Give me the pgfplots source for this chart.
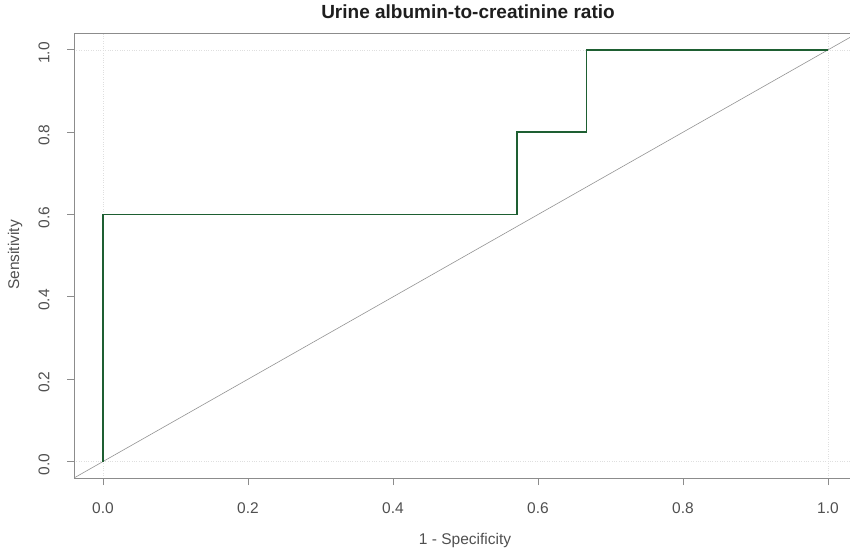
\documentclass[border=0pt]{standalone}
\usepackage{pgfplots}
\pgfplotsset{compat=1.18}
\usepackage{fontspec}
\setmainfont{Liberation Sans}
\definecolor{rocgreen}{RGB}{30,95,50}
\definecolor{axgray}{RGB}{140,140,140}
\definecolor{lblgray}{RGB}{80,80,80}
\begin{document}
\begin{tikzpicture}
\begin{axis}[
  name=ax,
  scale only axis,
  width=783pt, height=445pt,
  xmin=-0.04, xmax=1.04,
  ymin=-0.04, ymax=1.041,
  axis line style={draw=none},
  xtick={0,0.2,0.4,0.6,0.8,1.0},
  ytick={0,0.2,0.4,0.6,0.8,1.0},
  xtick pos=bottom, ytick pos=left,
  tick align=outside,
  major tick length=7pt,
  tick style={axgray, line width=0.8pt},
  /pgf/number format/assume math mode=true,
  xticklabel style={/pgf/number format/fixed, /pgf/number format/fixed zerofill, /pgf/number format/precision=1, font=\fontsize{15.5}{18}\selectfont, text=lblgray, anchor=north, yshift=-14pt},
  yticklabel style={/pgf/number format/fixed, /pgf/number format/fixed zerofill, /pgf/number format/precision=1, font=\fontsize{15.5}{18}\selectfont, text=lblgray, rotate=90, anchor=center, xshift=-3pt, yshift=23pt},
  extra x ticks={0,1}, extra x tick labels={},
  extra y ticks={0,1}, extra y tick labels={},
  extra tick style={grid=major, major tick length=0pt, major grid style={gray!25, dotted, line width=0.6pt}},
  clip=true,
]
\addplot[gray!85, line width=0.6pt] coordinates {(-0.1,-0.1) (1.1,1.1)};
\addplot[rocgreen, line width=1.6pt] coordinates {(0,0) (0,0.6) (0.5714,0.6) (0.5714,0.8) (0.6667,0.8) (0.6667,1.0) (1.0,1.0)};
\end{axis}
\draw[axgray, line width=0.9pt] (ax.north east) -- (ax.north west) -- (ax.south west) -- (ax.south east);
\node[font=\bfseries\fontsize{19}{22}\selectfont, text={rgb,255:red,30;green,30;blue,30}] at (394pt,466pt) {Urine albumin-to-creatinine ratio};
\node[font=\fontsize{15.5}{18}\selectfont, text=lblgray] at (391pt,-62pt) {1 - Specificity};
\node[font=\fontsize{15.5}{18}\selectfont, text=lblgray, rotate=90] at (-59pt,223pt) {Sensitivity};
\pgfresetboundingbox
\path[use as bounding box] (-74pt,-73pt) rectangle (776pt,478pt);
\end{tikzpicture}
\end{document}
